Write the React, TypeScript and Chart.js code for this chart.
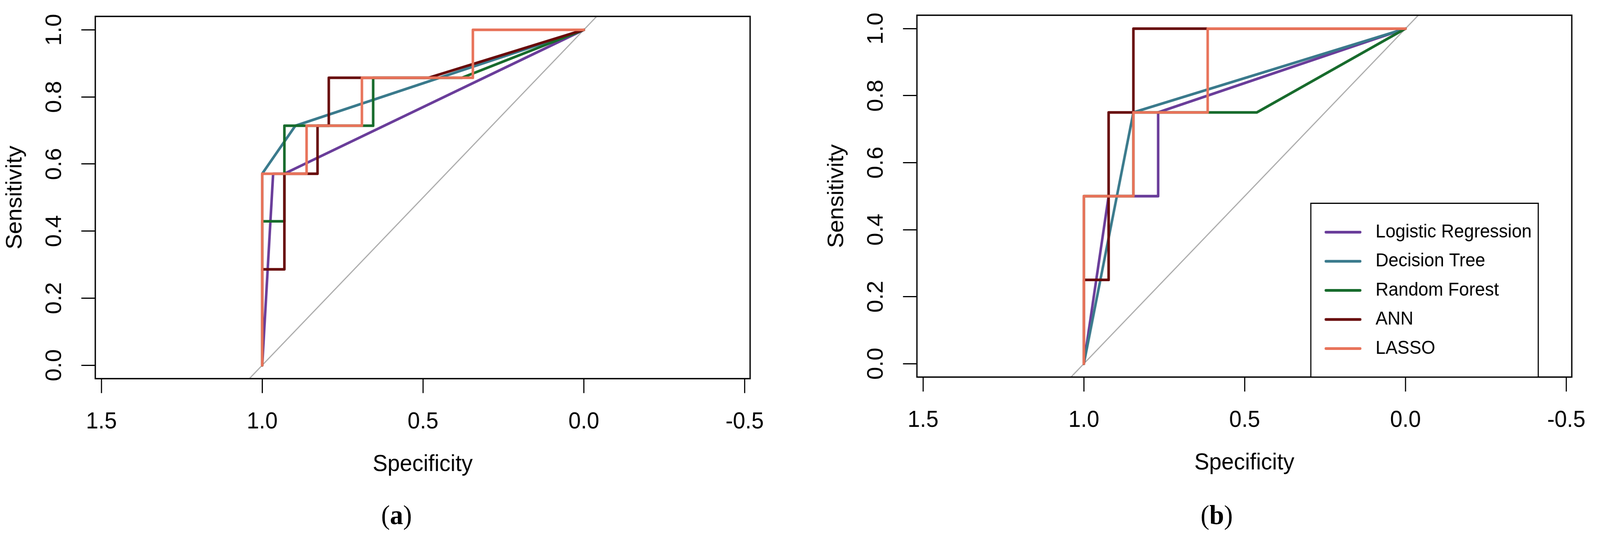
import React, { useEffect, useRef } from "react";
import { Chart, registerables } from "chart.js";

Chart.register(...registerables);

// ---------- data ----------
const MODEL_NAMES = ["Logistic Regression", "Decision Tree", "Random Forest", "ANN", "LASSO"];
const MODEL_COLORS = ["#6A3D9A", "#3A7A8C", "#176B2C", "#680A0A", "#E8735A"];

const X_TICKS = [1.5, 1.0, 0.5, 0.0, -0.5];
const Y_TICKS = [0.0, 0.2, 0.4, 0.6, 0.8, 1.0];

const X_AXIS_TITLE = "Specificity";
const Y_AXIS_TITLE = "Sensitivity";

// identity (chance) line
const DIAG_SPEC = [1.04, -0.04];
const DIAG_SENS = [-0.04, 1.04];

// Panel (a)
const A_LR_SPEC = [1, 0.966, 0.931, 0];
const A_LR_SENS = [0, 0.571, 0.571, 1];
const A_DT_SPEC = [1, 1, 0.897, 0];
const A_DT_SENS = [0, 0.571, 0.714, 1];
const A_RF_SPEC = [1, 1, 0.931, 0.931, 0.655, 0.655, 0.379, 0];
const A_RF_SENS = [0, 0.429, 0.429, 0.714, 0.714, 0.857, 0.857, 1];
const A_ANN_SPEC = [1, 1, 0.931, 0.931, 0.828, 0.828, 0.793, 0.793, 0.483, 0];
const A_ANN_SENS = [0, 0.286, 0.286, 0.571, 0.571, 0.714, 0.714, 0.857, 0.857, 1];
const A_LASSO_SPEC = [1, 1, 0.862, 0.862, 0.69, 0.69, 0.345, 0.345, 0];
const A_LASSO_SENS = [0, 0.571, 0.571, 0.714, 0.714, 0.857, 0.857, 1, 1];

// Panel (b)
const B_LR_SPEC = [1, 0.923, 0.769, 0.769, 0];
const B_LR_SENS = [0, 0.5, 0.5, 0.75, 1];
const B_DT_SPEC = [1, 0.846, 0];
const B_DT_SENS = [0, 0.75, 1];
const B_RF_SPEC = [1, 1, 0.846, 0.846, 0.462, 0];
const B_RF_SENS = [0, 0.5, 0.5, 0.75, 0.75, 1];
const B_ANN_SPEC = [1, 1, 0.923, 0.923, 0.846, 0.846, 0];
const B_ANN_SENS = [0, 0.25, 0.25, 0.75, 0.75, 1, 1];
const B_LASSO_SPEC = [1, 1, 0.846, 0.846, 0.615, 0.615, 0];
const B_LASSO_SENS = [0, 0.5, 0.5, 0.75, 0.75, 1, 1];

const PANEL_A_SPECS = [A_LR_SPEC, A_DT_SPEC, A_RF_SPEC, A_ANN_SPEC, A_LASSO_SPEC];
const PANEL_A_SENS = [A_LR_SENS, A_DT_SENS, A_RF_SENS, A_ANN_SENS, A_LASSO_SENS];
const PANEL_B_SPECS = [B_LR_SPEC, B_DT_SPEC, B_RF_SPEC, B_ANN_SPEC, B_LASSO_SPEC];
const PANEL_B_SENS = [B_LR_SENS, B_DT_SENS, B_RF_SENS, B_ANN_SENS, B_LASSO_SENS];

// ---------- layout / style ----------
const PAGE_W = 4249;
const PAGE_H = 1398;
const SANS = "'Liberation Sans', Arial, Helvetica, sans-serif";
const SERIF = "'Liberation Serif', 'Times New Roman', serif";
const AXIS_FONT = 59;
const LEGEND_FONT = 47.5;
const TICK_LEN = 37;
const Y_AXIS_W = 248;
const X_AXIS_H = 256;
const CURVE_WIDTH = 6.8;

type Geom = {
  canvasLeft: number;
  canvasWidth: number;
  chartLeft: number;
  chartRight: number;
  chartTop: number;
  chartBottom: number;
};

const GEOM_A: Geom = { canvasLeft: 0, canvasWidth: 2124, chartLeft: 253, chartRight: 1992, chartTop: 42, chartBottom: 969.5 };
const GEOM_B: Geom = { canvasLeft: 2124, canvasWidth: 2125, chartLeft: 311, chartRight: 2050, chartTop: 39, chartBottom: 965.5 };

const framePlugin = {
  id: "frameBox",
  afterDatasetsDraw(chart: any) {
    const { ctx, chartArea } = chart;
    ctx.save();
    ctx.strokeStyle = "#000";
    ctx.lineWidth = 3.5;
    ctx.strokeRect(chartArea.left, chartArea.top, chartArea.right - chartArea.left, chartArea.bottom - chartArea.top);
    ctx.restore();
  },
};

const legendPlugin = {
  id: "rocLegend",
  afterDraw(chart: any) {
    const { ctx, chartArea } = chart;
    const right = chartArea.right - 89;
    const left = right - 604;
    const bottom = chartArea.bottom;
    const top = bottom - 445;
    ctx.save();
    ctx.fillStyle = "#fff";
    ctx.fillRect(left, top, right - left, bottom - top);
    ctx.strokeStyle = "#000";
    ctx.lineWidth = 3;
    ctx.strokeRect(left, top, right - left, bottom - top);
    MODEL_NAMES.forEach((name, i) => {
      const y = top + 74 + i * 74.5;
      ctx.strokeStyle = MODEL_COLORS[i];
      ctx.lineWidth = CURVE_WIDTH;
      ctx.lineCap = "round";
      ctx.beginPath();
      ctx.moveTo(left + 40, y);
      ctx.lineTo(left + 131, y);
      ctx.stroke();
      ctx.fillStyle = "#000";
      ctx.font = `${LEGEND_FONT}px ${SANS}`;
      ctx.textBaseline = "middle";
      ctx.textAlign = "left";
      ctx.fillText(name, left + 172, y);
    });
    ctx.restore();
  },
};

function toPoints(xs: number[], ys: number[]) {
  return xs.map((x, i) => ({ x, y: ys[i] }));
}

function buildConfig(geom: Geom, specs: number[][], sens: number[][], withLegend: boolean, dpr: number): any {
  const n = specs.length;
  const datasets: any[] = [
    {
      label: "identity",
      data: toPoints(DIAG_SPEC, DIAG_SENS),
      showLine: true,
      borderColor: "#ABABAB",
      borderWidth: 3,
      pointRadius: 0,
      pointHoverRadius: 0,
      fill: false,
      clip: 0,
      order: n + 1,
    },
  ];
  specs.forEach((s, i) => {
    datasets.push({
      label: MODEL_NAMES[i],
      data: toPoints(s, sens[i]),
      showLine: true,
      borderColor: MODEL_COLORS[i],
      backgroundColor: MODEL_COLORS[i],
      borderWidth: CURVE_WIDTH,
      borderCapStyle: "round",
      borderJoinStyle: "round",
      tension: 0,
      pointRadius: 0,
      pointHoverRadius: 0,
      fill: false,
      order: n - i,
    });
  });

  const padLeft = geom.chartLeft - Y_AXIS_W;
  const padBottom = PAGE_H - geom.chartBottom - X_AXIS_H;

  return {
    type: "scatter",
    data: { datasets },
    plugins: withLegend ? [framePlugin, legendPlugin] : [framePlugin],
    options: {
      animation: false,
      responsive: false,
      maintainAspectRatio: false,
      devicePixelRatio: dpr,
      events: [],
      layout: {
        autoPadding: false,
        padding: {
          left: padLeft,
          right: geom.canvasWidth - geom.chartRight,
          top: geom.chartTop,
          bottom: padBottom,
        },
      },
      plugins: {
        legend: { display: false },
        tooltip: { enabled: false },
      },
      scales: {
        x: {
          type: "linear",
          position: "bottom",
          reverse: true,
          min: -0.517,
          max: 1.519,
          afterBuildTicks: (scale: any) => {
            scale.ticks = X_TICKS.map((v) => ({ value: v }));
          },
          afterFit: (scale: any) => {
            scale.height = X_AXIS_H;
            scale.paddingLeft = 0;
            scale.paddingRight = 0;
          },
          border: { display: false },
          grid: {
            display: true,
            drawOnChartArea: false,
            drawTicks: true,
            tickLength: TICK_LEN,
            tickWidth: 3,
            tickColor: "#000",
            color: "#000",
            lineWidth: 3,
          },
          ticks: {
            autoSkip: false,
            minRotation: 0,
            maxRotation: 0,
            padding: 38.5,
            color: "#000",
            font: { family: SANS, size: AXIS_FONT },
            callback: (v: any) => Number(v).toFixed(1),
          },
          title: {
            display: true,
            text: X_AXIS_TITLE,
            color: "#000",
            padding: 0,
            font: { family: SANS, size: AXIS_FONT },
          },
        },
        y: {
          type: "linear",
          position: "left",
          min: -0.04,
          max: 1.04,
          afterBuildTicks: (scale: any) => {
            scale.ticks = Y_TICKS.map((v) => ({ value: v }));
          },
          afterFit: (scale: any) => {
            scale.width = Y_AXIS_W;
            scale.paddingTop = 0;
            scale.paddingBottom = 0;
          },
          border: { display: false },
          grid: {
            display: true,
            drawOnChartArea: false,
            drawTicks: true,
            tickLength: TICK_LEN,
            tickWidth: 3,
            tickColor: "#000",
            color: "#000",
            lineWidth: 3,
          },
          ticks: {
            autoSkip: false,
            minRotation: 90,
            maxRotation: 90,
            crossAlign: "center",
            padding: 29,
            color: "#000",
            font: { family: SANS, size: AXIS_FONT },
            callback: (v: any) => Number(v).toFixed(1),
          },
          title: {
            display: true,
            text: Y_AXIS_TITLE,
            color: "#000",
            padding: 0,
            font: { family: SANS, size: AXIS_FONT },
          },
        },
      },
    },
  };
}

function RocPanel(props: { geom: Geom; specs: number[][]; sens: number[][]; legend: boolean; dpr: number }) {
  const ref = useRef<HTMLCanvasElement | null>(null);
  const { geom, specs, sens, legend, dpr } = props;
  useEffect(() => {
    if (!ref.current) return;
    const chart = new Chart(ref.current, buildConfig(geom, specs, sens, legend, dpr));
    return () => chart.destroy();
  }, []);
  return (
    <canvas
      ref={ref}
      width={geom.canvasWidth}
      height={PAGE_H}
      style={{ position: "absolute", left: geom.canvasLeft, top: 0, width: geom.canvasWidth, height: PAGE_H }}
    />
  );
}

function Caption(props: { letter: string; centerX: number }) {
  return (
    <div
      style={{
        position: "absolute",
        left: props.centerX - 150,
        width: 300,
        top: 1284,
        textAlign: "center",
        fontFamily: SERIF,
        fontSize: 70,
        lineHeight: "70px",
        color: "#000",
      }}
    >
      (<b>{props.letter}</b>)
    </div>
  );
}

export default function App() {
  // The browser viewport may be narrower than the requested page; fit the
  // 4249×1398 design to whatever viewport is actually available.
  const vw = window.innerWidth || PAGE_W;
  const vh = window.innerHeight || PAGE_H;
  const kx = vw / PAGE_W;
  const ky = vh / PAGE_H;
  const dpr = (window.devicePixelRatio || 1) * Math.max(kx, ky);
  return (
    <div
      style={{
        position: "fixed",
        left: 0,
        top: 0,
        width: vw,
        height: vh,
        overflow: "hidden",
        background: "#fff",
      }}
    >
      <div
        style={{
          position: "absolute",
          left: 0,
          top: 0,
          width: PAGE_W,
          height: PAGE_H,
          transform: `scale(${kx}, ${ky})`,
          transformOrigin: "0 0",
        }}
      >
        <RocPanel geom={GEOM_A} specs={PANEL_A_SPECS} sens={PANEL_A_SENS} legend={false} dpr={dpr} />
        <RocPanel geom={GEOM_B} specs={PANEL_B_SPECS} sens={PANEL_B_SENS} legend={true} dpr={dpr} />
        <Caption letter="a" centerX={1053} />
        <Caption letter="b" centerX={3231} />
      </div>
    </div>
  );
}
